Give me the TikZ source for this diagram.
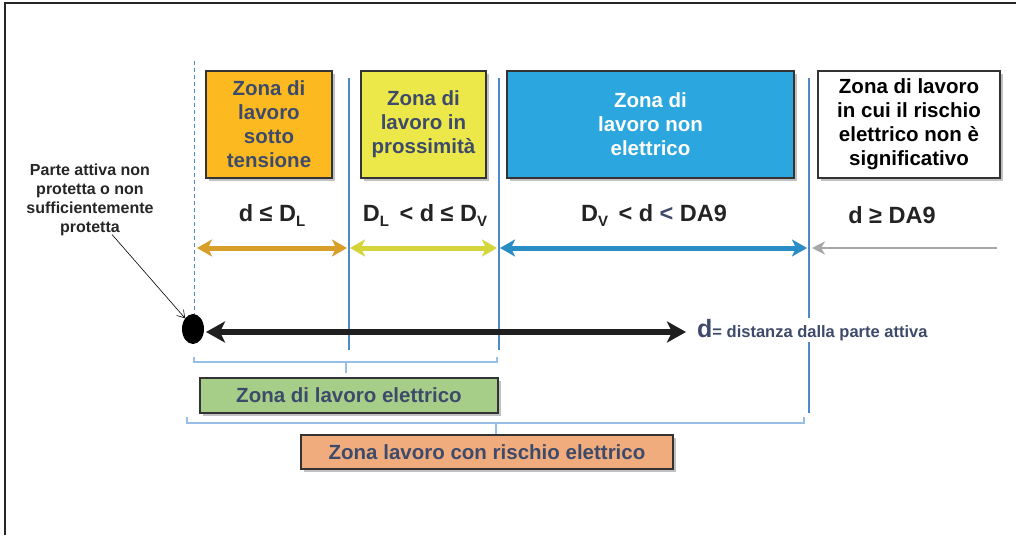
\documentclass[tikz,border=0pt]{standalone}
\usepackage{fontspec}
\setmainfont{Liberation Sans}
\usetikzlibrary{arrows.meta,shadows,shapes.geometric}
\definecolor{txt}{RGB}{62,74,106}
\definecolor{dk}{RGB}{35,35,35}
\definecolor{orz}{RGB}{252,186,32}
\definecolor{yez}{RGB}{237,232,74}
\definecolor{blz}{RGB}{44,166,222}
\definecolor{grz}{RGB}{166,206,137}
\definecolor{ogz}{RGB}{240,172,125}
\definecolor{vline}{RGB}{76,138,208}
\definecolor{brk}{RGB}{150,190,230}
\definecolor{arO}{RGB}{216,158,42}
\definecolor{arY}{RGB}{211,213,58}
\definecolor{arB}{RGB}{42,141,198}
\newcommand{\sbs}[1]{\raisebox{-5pt}{\fontsize{15}{15}\selectfont #1}}
\tikzset{
  zone/.style={draw=black!80, line width=1.5pt, align=center, inner sep=2pt,
    font=\bfseries\fontsize{20.5}{24}\selectfont,
    drop shadow={shadow xshift=3pt, shadow yshift=-3pt, opacity=0.35, fill=black!70}},
  cond/.style={font=\bfseries\fontsize{23.5}{23.5}\selectfont, text=dk, inner sep=1pt},
  vl/.style={draw=vline, line width=1.3pt},
  br/.style={draw=brk, line width=1.2pt},
  dbl/.style={line width=5pt, {Stealth[length=15pt,width=17pt,inset=4pt]}-{Stealth[length=15pt,width=17pt,inset=4pt]}}
}
\begin{document}
\begin{tikzpicture}[x=1pt,y=-1pt]
\useasboundingbox (0,0) rectangle (1016,535);
\draw[line width=1.2pt, black!85] (5,535) -- (5,3) -- (1016,3);

% vertical separators
\coordinate (v0t) at (194,61);  \coordinate (v0b) at (194,318);
\coordinate (v1t) at (349,78);  \coordinate (v1b) at (349,350);
\coordinate (v2t) at (499,78);  \coordinate (v2b) at (499,350);
\coordinate (v3t) at (809,78);  \coordinate (v3b) at (809,413);
\draw[vl, line width=1pt, dash pattern=on 4pt off 3pt] (v0t) -- (v0b);
\draw[vl] (v1t) -- (v1b);
\draw[vl] (v2t) -- (v2b);
\draw[vl] (v3t) -- (v3b);

% zone boxes
\node[zone, fill=orz, text=txt, minimum width=126pt, minimum height=107pt] (z1) at (269,124.5) {Zona di\\lavoro\\sotto\\tensione};
\node[zone, fill=yez, text=txt, minimum width=125pt, minimum height=107pt] (z2) at (423.5,124.5) {Zona di\\lavoro in\\prossimità};
\node[zone, fill=blz, text=white, minimum width=287pt, minimum height=107pt] (z3) at (650.5,124.5) {Zona di\\lavoro non\\elettrico};
\node[zone, fill=white, text=black, minimum width=182pt, minimum height=107pt] (z4) at (909,124.5) {Zona di lavoro\\in cui il rischio\\elettrico non è\\significativo};

% conditions
\node[cond] (c1) at (272,215) {d ≤ D\sbs{L}};
\node[cond] (c2) at (425,215) {D\sbs{L} \,< d ≤ D\sbs{V}};
\node[cond] (c3) at (654,215) {D\sbs{V} \,< d \textcolor{txt}{<} DA9};
\node[cond] (c4) at (892,215) {d ≥ DA9};

% coloured range arrows
\coordinate (a1l) at (197,248); \coordinate (a1r) at (347,248);
\coordinate (a2l) at (350,248); \coordinate (a2r) at (497,248);
\coordinate (a3l) at (500,248); \coordinate (a3r) at (807,248);
\coordinate (a4l) at (812,248); \coordinate (a4r) at (997,248);
\draw[dbl, arO] (a1l) -- (a1r);
\draw[dbl, arY] (a2l) -- (a2r);
\draw[dbl, arB] (a3l) -- (a3r);
\draw[line width=2.5pt, black!35, -{Stealth[length=13pt,width=13pt,inset=4pt,fill=black!15]}] (a4r) -- (a4l);

% active part and distance arrow
\node[ellipse, fill=black, minimum width=22pt, minimum height=30pt, inner sep=0pt] (dot) at (193,329) {};
\coordinate (dl) at (206,332); \coordinate (dr) at (686,332);
\draw[line width=6pt, black!88, {Stealth[length=19pt,width=21pt,inset=5pt]}-{Stealth[length=19pt,width=21pt,inset=5pt]}] (dl) -- (dr);
\node[anchor=west, fill=white, inner sep=1pt, text=txt, font=\bfseries] (dlab) at (696,330)
  {{\fontsize{25}{25}\selectfont d}{\fontsize{16.5}{16.5}\selectfont= distanza dalla parte attiva}};

% left label
\node[align=center, font=\bfseries\fontsize{16}{19}\selectfont, text=black!85] (lbl) at (90,200)
  {Parte attiva non\\protetta o non\\sufficientemente\\protetta};
\draw[line width=0.6pt, -{Straight Barb[length=7pt,width=9pt]}] ([xshift=22pt,yshift=5pt]lbl.south) -- (dot.north west);

% brackets
\coordinate (b1l) at (194,357); \coordinate (b1r) at (497,357);
\coordinate (b1m) at (346,373);
\draw[br] (b1l) |- (346,362) -| (b1r);
\draw[br] (346,362) -- (b1m);
\coordinate (b2l) at (187,417); \coordinate (b2r) at (804,417);
\coordinate (b2m) at (496,434);
\draw[br] (b2l) |- (496,423) -| (b2r);
\draw[br] (496,423) -- (b2m);

% summary boxes
\node[zone, fill=grz, text=txt, minimum width=298pt, minimum height=35pt] (ze) at (349,395.5) {Zona di lavoro elettrico};
\node[zone, fill=ogz, text=txt, minimum width=372pt, minimum height=34pt] (zr) at (487,452) {Zona lavoro con rischio elettrico};
\end{tikzpicture}
\end{document}
